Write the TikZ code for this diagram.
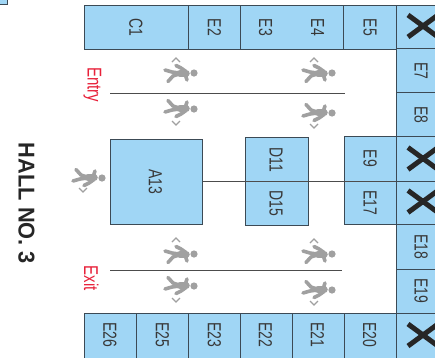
\documentclass[tikz,border=0pt]{standalone}
\usepackage{fontspec}
\setmainfont{Liberation Sans}
\definecolor{cellblue}{HTML}{A0D6F5}
\definecolor{edge}{HTML}{3C4A55}
\definecolor{person}{HTML}{A0A0A0}
\definecolor{entry}{HTML}{E8213A}
\tikzset{
 x=1pt,y=-1pt,
 cell/.style={draw=edge,fill=cellblue,line width=0.9pt},
 celltext/.style={rotate=-90,yscale=1.35,inner sep=0,font=\fontsize{14}{14}\selectfont,text=black!78},
 redtext/.style={rotate=-90,yscale=1.33,inner sep=0,font=\fontsize{15}{15}\selectfont,text=entry},
 divider/.style={draw=black!70,line width=0.9pt},
 bigx/.style={draw=black!85,line width=5pt},
 chev/.style={draw=person,line width=1.2pt},
 limb/.style={draw=person,line width=3.6pt,line cap=round,line join=round},
 torso/.style={draw=person,line width=7.5pt,line cap=round}
}
% #1 head x, #2 head y, #3 mirror sign
\newcommand{\walkerfig}[3]{%
 \begin{scope}[shift={(#1,#2)},yscale=#3]
 \fill[person] (0,0) circle (3.6);
 \draw[torso] (-8,0.3) -- (-14,0.3);
 \draw[limb] (-15,0) -- (-22,-1) -- (-29,-3);
 \draw[limb] (-15,1) -- (-21,3) -- (-26,8.5);
 \draw[limb] (-8,-1.5) -- (-13,-5) -- (-18,-7.5);
 \draw[limb] (-8,1.5) -- (-8,4) -- (-7,7);
 \end{scope}}
\newcommand{\chevup}[2]{\draw[chev] (#1-4,#2+2) -- (#1,#2-2) -- (#1+4,#2+2);}
\newcommand{\chevdn}[2]{\draw[chev] (#1-4,#2-2) -- (#1,#2+2) -- (#1+4,#2-2);}
\begin{document}
\begin{tikzpicture}
\useasboundingbox (0,0) rectangle (435,357);
\fill[white] (0,0) rectangle (435,357);
% corner fragment
\draw[cell] (-3,-3) rectangle (7.5,4);
% aisle dividers
\coordinate (entryL) at (110,93.5);\coordinate (entryR) at (345,93.5);
\coordinate (exitL) at (110,270);\coordinate (exitR) at (342,270);
\draw[divider] (entryL) -- (entryR);
\draw[divider] (exitL) -- (exitR);
% top row
\draw[cell] (84.5,5) rectangle (188,49.5);
\draw[cell] (188,5) rectangle (240,49.5);
\draw[cell] (240,5) rectangle (343.5,49.5);
\draw[cell] (343.5,5) rectangle (396,49.5);
\node[celltext] (c1) at (136,27.5) {C1};
\node[celltext] (e2) at (214.5,27.5) {E2};
\node[celltext] (e3) at (265.5,27.5) {E3};
\node[celltext] (e4) at (317.5,27.5) {E4};
\node[celltext] (e5) at (370,27.5) {E5};
% right column
\foreach \a/\b in {5/48.5,48.5/92.5,92.5/136.5,136.5/181,181/224,224/269,269/313,313/360}{\draw[cell] (396,\a) rectangle (438,\b);}
\node[celltext] (e7) at (421,71) {E7};
\node[celltext] (e8) at (421,115) {E8};
\node[celltext] (e18) at (421,247) {E18};
\node[celltext] (e19) at (421,290.5) {E19};
\foreach \c in {26,158.5,201.5,335}{\draw[bigx] (408,\c-11) -- (438,\c+11);\draw[bigx] (408,\c+11) -- (438,\c-11);}
% E9 / E17
\draw[cell] (344,136.5) rectangle (396,181);
\draw[cell] (344,181) rectangle (396,224);
\node[celltext] (e9) at (370,158.5) {E9};
\node[celltext] (e17) at (370,202.5) {E17};
% D11 / D15
\draw[cell] (245,137) rectangle (308,181);
\draw[cell] (245,181) rectangle (308,225);
\node[celltext] (d11) at (276,160) {D11};
\node[celltext] (d15) at (276,203) {D15};
% A13
\draw[cell] (110.5,139.5) rectangle (202.5,224.5);
\node[celltext] (a13) at (155.5,181.5) {A13};
\coordinate (a13R) at (202.5,181);\coordinate (e9L) at (396,181);
\draw[divider] (a13R) -- (e9L);
% bottom row
\foreach \a/\b in {84.5/136.5,136.5/188,188/240,240/292,292/344,344/396}{\draw[cell] (\a,313) rectangle (\b,360);}
\node[celltext] (e26) at (110,335) {E26};
\node[celltext] (e25) at (162.5,335) {E25};
\node[celltext] (e23) at (214.5,335) {E23};
\node[celltext] (e22) at (265.5,335) {E22};
\node[celltext] (e21) at (317.5,335) {E21};
\node[celltext] (e20) at (369.5,335) {E20};
% labels
\node[redtext,anchor=base] (entry) at (87.5,84.5) {Entry};
\node[redtext,anchor=base] (exit) at (84,278) {Exit};
\node[rotate=-90,yscale=1.05,inner sep=0,font=\bfseries\fontsize{21.8}{22}\selectfont,text=black!85] (hall) at (26.5,203.5) {HALL NO. 3};
% walkers
\walkerfig{194}{73}{1}\chevup{176}{60}
\walkerfig{194}{109}{-1}\chevdn{176}{123}
\walkerfig{332}{73}{1}\chevup{314}{60}
\walkerfig{332}{113}{-1}\chevdn{314}{126}
\walkerfig{102}{178}{-1}\chevdn{83}{190}
\walkerfig{194}{254}{1}\chevup{176}{240}
\walkerfig{194}{286}{-1}\chevdn{176}{300}
\walkerfig{332}{254}{1}\chevup{314}{241}
\walkerfig{332}{290}{-1}\chevdn{314}{303}
\end{tikzpicture}
\end{document}
